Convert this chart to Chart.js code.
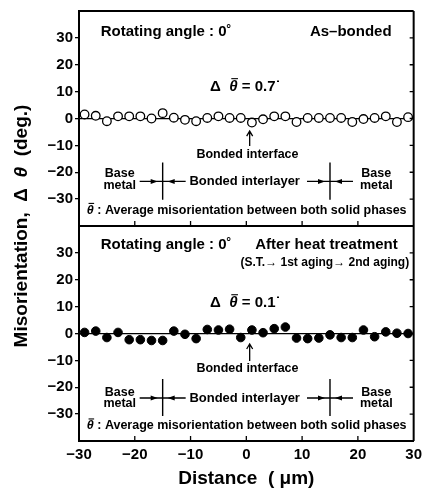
<!DOCTYPE html>
<html>
<head>
<meta charset="utf-8">
<script src="https://cdn.jsdelivr.net/npm/chart.js@4.4.0/dist/chart.umd.min.js"></script>
<style>
  html, body { margin: 0; padding: 0; background: #fff; }
</style>
</head>
<body>
<canvas id="myChart" width="427" height="494"></canvas>
<script>
// distance from the bonded interface (um)
const distance = [-29, -27, -25, -23, -21, -19, -17, -15, -13, -11, -9, -7, -5, -3, -1,
                  1, 3, 5, 7, 9, 11, 13, 15, 17, 19, 21, 23, 25, 27, 29];
// misorientation (deg.) as-bonded, open circles
const asBonded = [1.5, 1.0, -1.0, 0.8, 0.8, 0.8, 0.0, 2.0, 0.3, -0.5, -1.0, 0.2, 0.8, 0.2, 0.2,
                  -1.5, -0.3, 0.8, 0.8, -1.3, 0.2, 0.2, 0.2, 0.2, -1.3, -0.2, 0.2, 0.8, -1.3, 0.5];
// misorientation (deg.) after heat treatment, filled circles
const afterHeat = [0.4, 0.9, -1.5, 0.4, -2.3, -2.3, -2.6, -2.6, 0.9, -0.3, -1.9, 1.5, 1.3, 1.6, -1.5,
                   1.3, 0.3, 1.8, 2.4, -1.7, -1.9, -1.7, -0.5, -1.5, -1.5, 1.3, -1.2, 0.6, 0.1, 0.0];
const xTickLabels = [-30, -20, -10, 0, 10, 20, 30];
const yTickLabels = [-30, -20, -10, 0, 10, 20, 30];

const FAMILY = '"Liberation Sans", Arial, sans-serif';
const font = (size, italic) => (italic ? 'italic ' : '') + 'bold ' + size + 'px ' + FAMILY;
const minus = v => (v < 0 ? '\u2212' + Math.abs(v) : String(v));

// notes written inside each panel (data units of that panel)
const notes = {
  yTop: { title: 'As\u2013bonded', titleX: 11.4, sub: null, rotY: 32.1, delta: '0.7', deltaY: 11.7,
          arrow: [-4.7, -10.2], iface: -13.5, base: -20.4, metal: -24.8, layer: -23.4,
          vline: [-16.4, -30.2], avg: -34.2 },
  yBot: { title: 'After heat treatment', titleX: 1.6, sub: '(S.T.\u2192 1st aging\u2192 2nd aging)', subY: 26.2,
          rotY: 32.8, delta: '0.1', deltaY: 11.3,
          arrow: [-3.9, -10.2], iface: -13.2, base: -22.1, metal: -26.2, layer: -24.0,
          vline: [-16.9, -30.7], avg: -34.4 }
};

function text(ctx, str, x, y, size, align, italic) {
  ctx.font = font(size, italic);
  ctx.textAlign = align || 'left';
  ctx.textBaseline = 'middle';
  ctx.fillText(str, x, y);
  return ctx.measureText(str).width;
}

function thetaBar(ctx, x, y, size) {
  const w = text(ctx, '\u03b8', x, y, size, 'left', true);
  ctx.beginPath();
  ctx.lineWidth = 1.1;
  ctx.moveTo(x + w * 0.25, y - size * 0.56);
  ctx.lineTo(x + w * 1.05, y - size * 0.56);
  ctx.stroke();
  return w;
}

function head(ctx, tipX, y, dir) {
  ctx.beginPath();
  ctx.moveTo(tipX, y);
  ctx.lineTo(tipX - dir * 7, y - 2.5);
  ctx.lineTo(tipX - dir * 7, y + 2.5);
  ctx.closePath();
  ctx.fill();
}

const annotate = {
  id: 'annotate',
  afterDraw(chart) {
    const ctx = chart.ctx;
    const sx = chart.scales.x;
    const area = chart.chartArea;
    ctx.save();
    ctx.fillStyle = '#000';
    ctx.strokeStyle = '#000';

    // frame: top, right and the line between the two panels
    const sep = chart.scales.yTop.bottom;
    ctx.lineWidth = 2;
    ctx.beginPath();
    ctx.moveTo(area.left, area.top); ctx.lineTo(area.right, area.top);
    ctx.moveTo(area.right, area.top); ctx.lineTo(area.right, area.bottom);
    ctx.moveTo(area.left, sep); ctx.lineTo(area.right, sep);
    ctx.stroke();

    // inward ticks
    ctx.lineWidth = 1.3;
    ctx.beginPath();
    xTickLabels.slice(1, -1).forEach(v => {
      const x = sx.getPixelForValue(v);
      ctx.moveTo(x, area.bottom); ctx.lineTo(x, area.bottom - 5);
      ctx.moveTo(x, sep); ctx.lineTo(x, sep - 5);
    });
    ['yTop', 'yBot'].forEach(id => {
      yTickLabels.forEach(v => {
        const y = chart.scales[id].getPixelForValue(v);
        ctx.moveTo(area.right, y); ctx.lineTo(area.right - 4, y);
      });
    });
    ctx.stroke();

    // panel notes
    Object.keys(notes).forEach(id => {
      const n = notes[id];
      const sy = chart.scales[id];
      const X = v => sx.getPixelForValue(v);
      const Y = v => sy.getPixelForValue(v);

      text(ctx, 'Rotating angle : 0\u02da', X(-26.1), Y(n.rotY), 15);
      text(ctx, n.title, X(n.titleX), Y(n.rotY), 15);
      if (n.sub) text(ctx, n.sub, X(29.2), Y(n.subY), 12, 'right');

      // delta theta bar
      let x = X(-6.5);
      const yd = Y(n.deltaY);
      x += text(ctx, '\u0394  ', x, yd, 15);
      x += thetaBar(ctx, x, yd, 15);
      text(ctx, ' = ' + n.delta + '\u02d9', x, yd, 15);

      // bonded interface arrow
      const ax = X(0.6);
      ctx.lineWidth = 1.3;
      ctx.beginPath();
      ctx.moveTo(ax, Y(n.arrow[0])); ctx.lineTo(ax, Y(n.arrow[1]));
      ctx.moveTo(ax - 3, Y(n.arrow[0]) + 5); ctx.lineTo(ax, Y(n.arrow[0])); ctx.lineTo(ax + 3, Y(n.arrow[0]) + 5);
      ctx.stroke();
      text(ctx, 'Bonded interface', X(0.2), Y(n.iface), 12.5, 'center');

      // base metal / interlayer markers
      text(ctx, 'Base', X(-22.7), Y(n.base), 12.5, 'center');
      text(ctx, 'metal', X(-22.7), Y(n.metal), 12.5, 'center');
      text(ctx, 'Base', X(23.3), Y(n.base), 12.5, 'center');
      text(ctx, 'metal', X(23.3), Y(n.metal), 12.5, 'center');
      text(ctx, 'Bonded interlayer', X(-0.3), Y(n.layer), 13, 'center');

      const yl = Y(n.layer);
      [-15, 15].forEach(b => {
        const bx = X(b);
        ctx.lineWidth = 1.4;
        ctx.beginPath();
        ctx.moveTo(bx, Y(n.vline[0])); ctx.lineTo(bx, Y(n.vline[1]));
        ctx.moveTo(bx - 23, yl); ctx.lineTo(bx + 23, yl);
        ctx.stroke();
        head(ctx, bx - 5, yl, 1);
        head(ctx, bx + 5, yl, -1);
      });

      // average misorientation note
      x = X(-28.6);
      const ya = Y(n.avg);
      x += thetaBar(ctx, x, ya, 12.5);
      text(ctx, ' : Average misorientation between both solid phases', x, ya, 12.5);
    });

    // common y title
    ctx.translate(22, (area.top + area.bottom) / 2);
    ctx.rotate(-Math.PI / 2);
    ctx.font = font(19);
    const p1 = 'Misorientation,  \u0394  ', p3 = '  (deg.)';
    const w1 = ctx.measureText(p1).width, w3 = ctx.measureText(p3).width;
    ctx.font = font(19, true);
    const w2 = ctx.measureText('\u03b8').width;
    let tx = -(w1 + w2 + w3) / 2;
    text(ctx, p1, tx, 0, 19); tx += w1;
    text(ctx, '\u03b8', tx, 0, 19, 'left', true); tx += w2;
    text(ctx, p3, tx, 0, 19);
    ctx.restore();
  }
};

function yScale(weight) {
  return {
    type: 'linear',
    position: 'left',
    stack: 'panels',
    stackWeight: 1,
    weight: weight,
    min: -40,
    max: 40,
    afterFit: s => { s.width = 79; },
    border: { display: true, color: '#000', width: 2 },
    grid: {
      drawTicks: true,
      tickLength: 4,
      lineWidth: 1.3,
      color: c => (c.tick && c.tick.value === 0 ? '#000' : 'rgba(0,0,0,0)'),
      tickColor: c => (c.tick && yTickLabels.includes(c.tick.value) ? '#000' : 'rgba(0,0,0,0)'),
      tickWidth: 1.3
    },
    ticks: {
      stepSize: 10,
      autoSkip: false,
      color: '#000',
      padding: 2,
      font: { family: FAMILY, size: 15, weight: 'bold' },
      callback: v => (yTickLabels.includes(v) ? minus(v) : '')
    }
  };
}

const points = vals => distance.map((d, i) => ({ x: d, y: vals[i] }));

new Chart(document.getElementById('myChart').getContext('2d'), {
  type: 'scatter',
  data: {
    datasets: [{
      label: 'As-bonded',
      data: points(asBonded),
      yAxisID: 'yTop',
      pointRadius: 4.3,
      pointBorderWidth: 1.3,
      borderColor: '#000',
      backgroundColor: '#fff'
    }, {
      label: 'After heat treatment',
      data: points(afterHeat),
      yAxisID: 'yBot',
      pointRadius: 4.3,
      pointBorderWidth: 1,
      borderColor: '#000',
      backgroundColor: '#000'
    }]
  },
  options: {
    responsive: false,
    animation: false,
    layout: { padding: { left: 0, top: 2, right: 9, bottom: 0 } },
    plugins: { legend: { display: false }, tooltip: { enabled: false } },
    scales: {
      x: {
        type: 'linear',
        min: -30,
        max: 30,
        afterFit: s => { s.height = 53; },
        border: { display: true, color: '#000', width: 2 },
        grid: { display: false, drawTicks: false },
        ticks: {
          stepSize: 10,
          autoSkip: false,
          color: '#000',
          padding: 5,
          font: { family: FAMILY, size: 15, weight: 'bold' },
          callback: v => (xTickLabels.includes(v) ? minus(v) : '')
        },
        title: {
          display: true,
          text: 'Distance  ( \u03bcm)',
          color: '#000',
          font: { family: FAMILY, size: 19, weight: 'bold' },
          padding: { top: 0, bottom: 4 }
        }
      },
      yTop: yScale(2),
      yBot: yScale(1)
    }
  },
  plugins: [annotate]
});
</script>
</body>
</html>
